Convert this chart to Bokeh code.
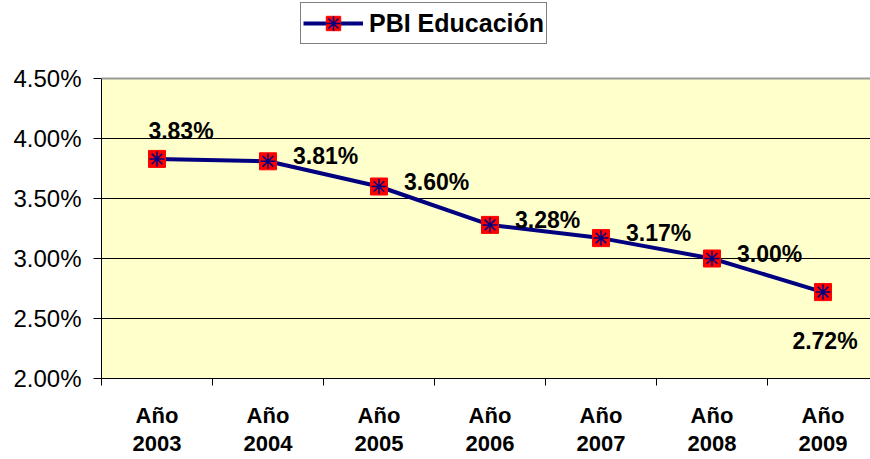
from bokeh.plotting import figure
from bokeh.models import (FixedTicker, PrintfTickFormatter, Range1d, Legend,
                          LegendItem, ColumnDataSource, Span, BoxAnnotation)
from bokeh.embed import file_html
from bokeh.resources import INLINE
from bokeh.core.properties import value

# ---- data ----
years = ["2003", "2004", "2005", "2006", "2007", "2008", "2009"]
categories = ["Año\n" + y for y in years]
pbi_educacion = [3.83, 3.81, 3.60, 3.28, 3.17, 3.00, 2.72]
y_ticks = [2.0, 2.5, 3.0, 3.5, 4.0, 4.5]
series_name = "PBI Educación"

FONT = "Liberation Sans"
xs = list(range(len(categories)))
labels = [f"{v:.2f}%" for v in pbi_educacion]
y_min, y_max = y_ticks[0], y_ticks[-1]

# frame spans from the top of the figure; the area above y_max is kept white
p = figure(width=870, height=459, output_backend="svg", toolbar_location=None,
           x_range=Range1d(-0.5, 6.428), y_range=Range1d(y_min, 5.15),
           min_border_left=101, min_border_right=0, min_border_top=0,
           min_border_bottom=81)
p.border_fill_color = "white"
p.background_fill_color = "white"
p.outline_line_color = None

plot_bg = BoxAnnotation(bottom=y_min, top=y_max, fill_color="#FFFFCC", fill_alpha=1,
                        line_color=None, level="image")
p.add_layout(plot_bg)

# axes
p.yaxis.ticker = FixedTicker(ticks=y_ticks)
p.yaxis.bounds = (y_min, y_max)
p.yaxis.formatter = PrintfTickFormatter(format="%.2f%%")
p.yaxis.major_label_text_font = FONT
p.yaxis.major_label_text_font_size = "24px"
p.yaxis.major_label_text_color = "black"
p.yaxis.major_tick_out = 8
p.yaxis.major_tick_in = 0
p.yaxis.major_label_standoff = 12
p.yaxis.axis_line_color = "black"
p.yaxis.major_tick_line_color = "black"
p.yaxis.minor_tick_line_color = None

p.xaxis.ticker = FixedTicker(ticks=xs, minor_ticks=[i - 0.5 for i in range(len(xs) + 1)])
p.xaxis.major_label_overrides = {i: c for i, c in enumerate(categories)}
p.xaxis.major_label_text_font = FONT
p.xaxis.major_label_text_font_style = "bold"
p.xaxis.major_label_text_font_size = "22px"
p.xaxis.major_label_text_color = "black"
p.xaxis.major_label_text_line_height = 1.15
p.xaxis.major_tick_out = 0
p.xaxis.major_tick_in = 0
p.xaxis.minor_tick_out = 7
p.xaxis.minor_tick_in = 0
p.xaxis.minor_tick_line_color = "black"
p.xaxis.major_label_standoff = 17
p.xaxis.axis_line_color = "black"

p.xgrid.grid_line_color = None
p.ygrid.ticker = FixedTicker(ticks=[t for t in y_ticks if y_min < t < y_max])
p.ygrid.grid_line_color = "black"
p.ygrid.grid_line_width = 1

p.add_layout(Span(location=y_max, dimension="width", line_color="#999999", line_width=2))

src = ColumnDataSource(dict(x=xs, y=pbi_educacion, label=labels))

line = p.line("x", "y", source=src, line_color="#000080", line_width=4)
sq = p.scatter("x", "y", source=src, marker="square", size=17,
               fill_color="#FF0000", line_color="#FF0000")
ast = p.scatter("x", "y", source=src, marker="asterisk", size=15,
                line_color="#000080", line_width=1.5)

# data labels
first = ColumnDataSource(dict(x=xs[:1], y=pbi_educacion[:1], label=labels[:1]))
mid = ColumnDataSource(dict(x=xs[1:-1], y=pbi_educacion[1:-1], label=labels[1:-1]))
last = ColumnDataSource(dict(x=xs[-1:], y=pbi_educacion[-1:], label=labels[-1:]))
common = dict(text="label", text_font=value(FONT), text_font_style="bold",
              text_font_size="23px", text_color="black", text_baseline="middle")
p.text("x", "y", source=first, x_offset=24, y_offset=-28, text_align="center", **common)
p.text("x", "y", source=mid, x_offset=25, y_offset=-5, text_align="left", **common)
p.text("x", "y", source=last, x_offset=2, y_offset=49, text_align="center", **common)

legend = Legend(items=[LegendItem(label=series_name, renderers=[line, sq, ast])],
                location=(199, 334), orientation="horizontal",
                label_text_font=FONT, label_text_font_style="bold",
                label_text_font_size="25px", label_text_color="black",
                glyph_width=60, glyph_height=36, label_standoff=6,
                padding=2, margin=0, spacing=0,
                border_line_color="black", border_line_width=1,
                background_fill_color="white", background_fill_alpha=1)
p.add_layout(legend, "center")

open("out.html", "w").write(file_html(p, INLINE))
